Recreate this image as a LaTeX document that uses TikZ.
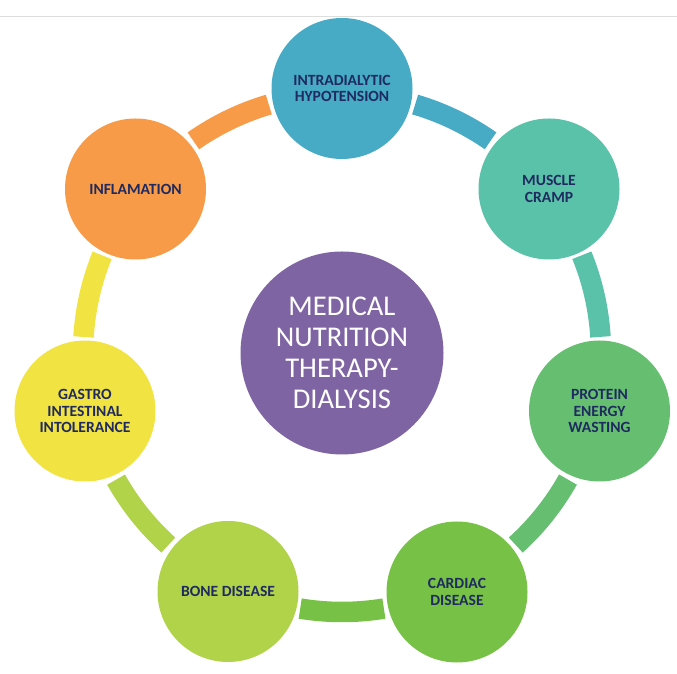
\documentclass[tikz,border=0pt]{standalone}
\usepackage{fontspec}
\setmainfont{Carlito}
\definecolor{cblue}{HTML}{47ABC6}
\definecolor{cteal}{HTML}{5BC2AA}
\definecolor{cgreen}{HTML}{66BF70}
\definecolor{cleaf}{HTML}{77C146}
\definecolor{clime}{HTML}{B1D34A}
\definecolor{cyell}{HTML}{F1E342}
\definecolor{coran}{HTML}{F89B48}
\definecolor{cpurp}{HTML}{7F64A3}
\definecolor{cnavy}{HTML}{1F2A60}
\definecolor{crule}{HTML}{DDDDDD}
\tikzset{
  topic/.style={circle,draw=none,inner sep=0pt,minimum size=141pt,align=center,text=cnavy,
    font=\fontsize{15.6}{16.8}\selectfont\bfseries},
  hub/.style={circle,draw=none,fill=cpurp,inner sep=0pt,minimum size=203pt,align=center,text=white,
    font=\fontsize{28.6}{31}\selectfont},
  band/.style={line width=20.5pt,line cap=butt},
}
\newcommand{\ringarc}[2]{\draw[band,#1] ([shift={(#2:259pt)}]ring.center) arc[start angle=#2,delta angle=-18.6,radius=259pt];}
\begin{document}
\begin{tikzpicture}[x=1pt,y=1pt]
\useasboundingbox (0,0) rectangle (677,674);
\fill[white] (0,0) rectangle (677,674);
\coordinate (ruleL) at (0,657.5);
\coordinate (ruleR) at (677,657.5);
\draw[crule,line width=1pt] (ruleL) -- (ruleR);
\node[hub] (center) at (342,321) {MEDICAL\\NUTRITION\\THERAPY-\\DIALYSIS};
\coordinate (ring) at (342,321);
\ringarc{cblue}{73.6}
\ringarc{cteal}{22.17}
\ringarc{cgreen}{-29.26}
\ringarc{cleaf}{-80.69}
\ringarc{clime}{-132.12}
\ringarc{cyell}{-183.55}
\ringarc{coran}{-234.98}
\node[topic,fill=cblue] (n1) at (342,585.5) {INTRADIALYTIC\\HYPOTENSION};
\node[topic,fill=cteal] (n2) at (549,485) {MUSCLE\\CRAMP};
\node[topic,fill=cgreen] (n3) at (599.5,263) {PROTEIN\\ENERGY\\WASTING};
\node[topic,fill=cleaf] (n4) at (457,82) {CARDIAC\\DISEASE};
\node[topic,fill=clime] (n5) at (228,82.5) {BONE DISEASE};
\node[topic,fill=cyell] (n6) at (85,263) {GASTRO\\INTESTINAL\\INTOLERANCE};
\node[topic,fill=coran] (n7) at (135.5,485) {INFLAMATION};
\end{tikzpicture}
\end{document}
